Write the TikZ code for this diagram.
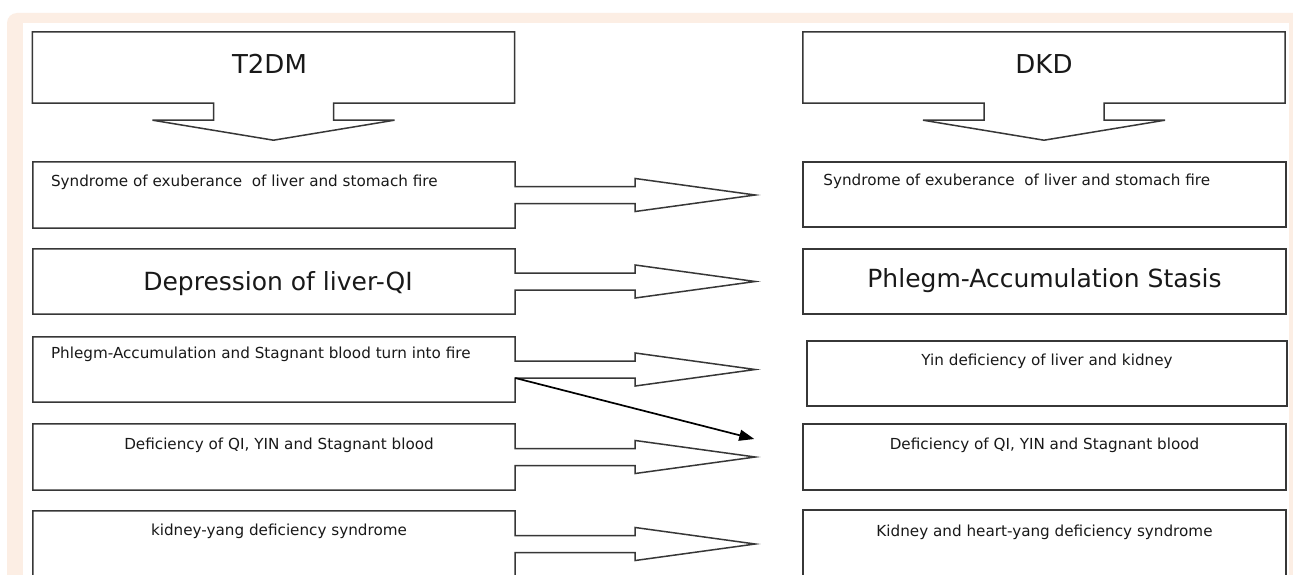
\documentclass[tikz,border=0pt]{standalone}
\usepackage{fontspec}
\setmainfont{DejaVu Sans}
\usetikzlibrary{arrows.meta,calc,positioning}
\definecolor{frame}{RGB}{252,238,228}
\definecolor{edge}{RGB}{55,55,55}

\begin{document}
\begin{tikzpicture}[x=1pt,y=-1pt,>=Latex,
	box/.style={rectangle,inner sep=0pt,minimum width=482pt,minimum height=66pt},
	outl/.style={draw=edge,line width=1.5pt},
	txt/.style={inner sep=0pt,text=black!90,font=\fontsize{15.2}{18}\selectfont},
	bigtxt/.style={inner sep=0pt,text=black!90,font=\fontsize{25}{30}\selectfont},
	ttl/.style={inner sep=0pt,text=black!90,font=\fontsize{26}{31}\selectfont}]
	\useasboundingbox (0,0) rectangle (1293,575);
	\clip (0,0) rectangle (1293,575);
	% page frame
	\fill[white] (0,0) rectangle (1293,575);
	\fill[frame,rounded corners=10pt] (7,13) rectangle (1320,620);
	\fill[white] (23,23) rectangle (1289,620);
	% boxes
	\node[box,minimum height=71pt] (t2dm) at (273.5,67.5) {};
	\node[box,minimum height=71pt] (dkd) at (1044,67.5) {};
	\node[box] (l1) at (274,195) {};
	\node[box,minimum height=65pt] (l2) at (274,281.5) {};
	\node[box,minimum height=65pt] (l3) at (274,369.5) {};
	\node[box] (l4) at (274,457) {};
	\node[box] (l5) at (274,544) {};
	\node[box,outl,minimum width=483pt,minimum height=65pt] (r1) at (1044.5,194.5) {};
	\node[box,outl,minimum width=483pt,minimum height=65pt] (r2) at (1044.5,281.5) {};
	\node[box,outl,minimum width=480pt,minimum height=65pt] (r3) at (1047,373.5) {};
	\node[box,outl,minimum width=483pt] (r4) at (1044.5,457) {};
	\node[box,outl,minimum width=483pt] (r5) at (1044.5,543) {};
	% callouts
	\foreach \b in {t2dm,dkd}{
		\draw[outl] (\b.north west) -- (\b.north east) -- (\b.south east) -- ($(\b.south)+(60,0)$) -- ++(0,17) -- ++(61,0) -- ($(\b.south)+(0,37)$) -- ($(\b.south)+(-121,17)$) -- ++(61,0) -- ++(0,-17) -- (\b.south west) -- cycle;
	}
	\foreach \b in {l1,l2,l3,l4,l5}{
		\draw[outl] ($(\b.east)+(0,-8.5)$) -- (\b.north east) -- (\b.north west) -- (\b.south west) -- (\b.south east) -- ($(\b.east)+(0,8.5)$) -- ++(120,0) -- ++(0,8) -- ($(\b.east)+(240,0)$) -- ($(\b.east)+(120,-16.5)$) -- ++(0,8) -- cycle;
	}
	% texts
	\node[ttl,anchor=base] (t2dmt) at ($(t2dm.center)+(-4,6)$) {T2DM};
	\node[ttl,anchor=base] (dkdt) at ($(dkd.center)+(0,6)$) {DKD};
	\node[txt,anchor=base west] (l1t) at ($(l1.north west)+(18,25)$) {Syndrome of exuberance\ \ of liver and stomach fire};
	\node[bigtxt,anchor=base] (l2t) at ($(l2.center)+(4,9)$) {Depression of liver-QI};
	\node[txt,anchor=base west] (l3t) at ($(l3.north west)+(18,22)$) {Phlegm-Accumulation and Stagnant blood turn into fire};
	\node[txt,anchor=base] (l4t) at ($(l4.north)+(5,26)$) {Deficiency of QI, YIN and Stagnant blood};
	\node[txt,anchor=base] (l5t) at ($(l5.north)+(5,25)$) {kidney-yang deficiency syndrome};
	\node[txt,anchor=base west] (r1t) at ($(r1.north west)+(21,24)$) {Syndrome of exuberance\ \ of liver and stomach fire};
	\node[bigtxt,anchor=base] (r2t) at ($(r2.center)+(0,6)$) {Phlegm-Accumulation Stasis};
	\node[txt,anchor=base] (r3t) at ($(r3.north)+(0,25)$) {Yin deficiency of liver and kidney};
	\node[txt,anchor=base] (r4t) at ($(r4.north)+(0,26)$) {Deficiency of QI, YIN and Stagnant blood};
	\node[txt,anchor=base] (r5t) at ($(r5.north)+(0,27)$) {Kidney and heart-yang deficiency syndrome};
	% cross link
	\coordinate (dsrc) at ($(l3.east)+(0,8.5)$);
	\coordinate (dtip) at ($(r4.west)+(-48,-18)$);
	\draw[-{Triangle[length=15pt,width=11pt]},line width=1.7pt] (dsrc) -- (dtip);
\end{tikzpicture}
\end{document}
